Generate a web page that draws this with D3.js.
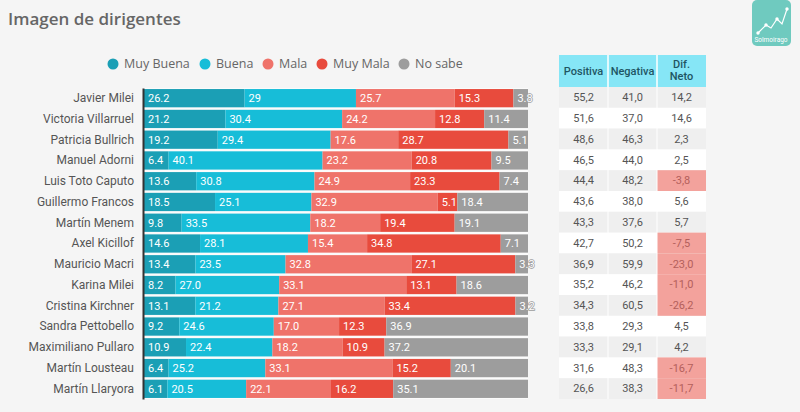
<!DOCTYPE html>
<html>
<head>
<meta charset="utf-8">
<script src="https://cdn.jsdelivr.net/npm/d3@7"></script>
<style>
  body { margin: 0; background: #f5f5f5; }
  svg { display: block; }
</style>
</head>
<body>
<div id="chart"></div>
<script>
//chart data
var names = ["Javier Milei", "Victoria Villarruel", "Patricia Bullrich", "Manuel Adorni", "Luis Toto Caputo",
  "Guillermo Francos", "Martín Menem", "Axel Kicillof", "Mauricio Macri", "Karina Milei",
  "Cristina Kirchner", "Sandra Pettobello", "Maximiliano Pullaro", "Martín Lousteau", "Martín Llaryora"];
var seriesNames = ["Muy Buena", "Buena", "Mala", "Muy Mala", "No sabe"];
var muyBuena = ["26.2","21.2","19.2","6.4","13.6","18.5","9.8","14.6","13.4","8.2","13.1","9.2","10.9","6.4","6.1"];
var buena    = ["29","30.4","29.4","40.1","30.8","25.1","33.5","28.1","23.5","27.0","21.2","24.6","22.4","25.2","20.5"];
var mala     = ["25.7","24.2","17.6","23.2","24.9","32.9","18.2","15.4","32.8","33.1","27.1","17.0","18.2","33.1","22.1"];
var muyMala  = ["15.3","12.8","28.7","20.8","23.3","5.1","19.4","34.8","27.1","13.1","33.4","12.3","10.9","15.2","16.2"];
var noSabe   = ["3.8","11.4","5.1","9.5","7.4","18.4","19.1","7.1","3.3","18.6","3.2","36.9","37.2","20.1","35.1"];
var positiva = [55.2, 51.6, 48.6, 46.5, 44.4, 43.6, 43.3, 42.7, 36.9, 35.2, 34.3, 33.8, 33.3, 31.6, 26.6];
var negativa = [41.0, 37.0, 46.3, 44.0, 48.2, 38.0, 37.6, 50.2, 59.9, 46.2, 60.5, 29.3, 29.1, 48.3, 38.3];
var difNeto  = [14.2, 14.6, 2.3, 2.5, -3.8, 5.6, 5.7, -7.5, -23.0, -11.0, -26.2, 4.5, 4.2, -16.7, -11.7];
var tableCols = ["Positiva", "Negativa", "Dif. Neto"];

var colors = ["#1b9fb5", "#17bdd8", "#ef736a", "#e84b3d", "#9d9d9d"];

const W = 800, H = 412;
var svg = d3.select("#chart").append("svg")
  .attr("width", W).attr("height", H)
  .style("font-family", "Roboto, sans-serif");

svg.append("rect").attr("width", W).attr("height", H).attr("fill", "#f5f5f5");

//title
svg.append("text")
  .attr("x", 8).attr("y", 25)
  .attr("fill", "#666")
  .style("font-family", "'Open Sans', sans-serif")
  .style("font-size", "17px").style("font-weight", "600")
  .text("Imagen de dirigentes");

//logo
var logo = svg.append("g");
logo.append("rect").attr("x", 752).attr("y", 0).attr("width", 39).attr("height", 46)
  .attr("rx", 5).attr("fill", "#6fcabf");
logo.append("polyline")
  .attr("points", "758,33 766,25 771,28 777,19 782,24 787,9")
  .attr("fill", "none").attr("stroke", "#fff").attr("stroke-width", 1.2);
logo.selectAll("circle").data([[758,33],[766,25],[777,19],[787,9]]).enter().append("circle")
  .attr("cx", d => d[0]).attr("cy", d => d[1]).attr("r", 1.7).attr("fill", "#fff");
logo.append("text").attr("x", 771).attr("y", 42).attr("text-anchor", "middle")
  .attr("fill", "#fff").style("font-size", "6.5px").text("Solmoirago");

//legend
var legendX = [113, 205, 268, 322, 404];
var legend = svg.selectAll(".legend").data(seriesNames).enter().append("g")
  .attr("class", "legend")
  .attr("transform", (d, i) => "translate(" + legendX[i] + ",64)");
legend.append("circle").attr("r", 5.5).attr("fill", (d, i) => colors[i]);
legend.append("text").attr("x", 11).attr("dy", "0.35em")
  .attr("fill", "#666")
  .style("font-family", "'Open Sans', sans-serif").style("font-size", "12.5px")
  .text(d => d);

//stacked data
var rows = names.map(function(n, i) {
  return {name: n, values: [muyBuena[i], buena[i], mala[i], muyMala[i], noSabe[i]]};
});
var stack = d3.stack()
  .keys(d3.range(5))
  .value((d, k) => +d.values[k])
  .offset(d3.stackOffsetExpand);
var stacked = stack(rows);

var x = d3.scaleLinear().domain([0, 1]).range([144, 528]);
var y = d3.scaleBand().domain(names).range([88, 399]).paddingInner(0.12).paddingOuter(0.05);

//white plot area behind the bars
svg.append("rect").attr("x", x(0)).attr("y", 88)
  .attr("width", x(1) - x(0)).attr("height", 311).attr("fill", "#fbfbfb");

var layers = svg.selectAll(".layer").data(stacked).enter().append("g")
  .attr("class", "layer")
  .attr("fill", (d, i) => colors[i]);

layers.selectAll("rect").data(d => d).enter().append("rect")
  .attr("x", d => x(d[0]))
  .attr("width", d => x(d[1]) - x(d[0]))
  .attr("y", d => y(d.data.name))
  .attr("height", y.bandwidth());

//value labels, outlined in the segment colour so overflow stays readable
svg.selectAll(".vlabels").data(stacked).enter().append("g")
  .selectAll("text").data((d, k) => d.map(p => ({p: p, k: k}))).enter().append("text")
  .attr("x", d => x(d.p[0]) + 4)
  .attr("y", d => y(d.p.data.name) + y.bandwidth() / 2)
  .attr("dy", "0.35em")
  .attr("fill", "#fff")
  .attr("stroke", d => colors[d.k])
  .attr("stroke-width", 1.5)
  .attr("paint-order", "stroke")
  .style("font-size", "11px")
  .text(d => d.p.data.values[d.k]);

//y axis
var yAxis = d3.axisLeft(y).tickSize(0).tickPadding(9);
var yg = svg.append("g").attr("transform", "translate(143,0)").call(yAxis);
yg.select(".domain").attr("stroke", "#333").attr("stroke-width", 2);
yg.selectAll("text").attr("fill", "#555")
  .style("font-family", "Roboto, sans-serif").style("font-size", "12px");

//table
var colX = d3.scaleBand().domain(tableCols).range([559, 706]);
var rowY = d3.scaleBand().domain(names).range([87, 399]);
var fmt = d3.formatLocale({decimal: ",", thousands: ".", grouping: [3], currency: ["", ""], minus: "-"}).format(".1f");

var head = svg.append("g");
head.append("rect").attr("x", 559).attr("y", 55).attr("width", 147).attr("height", 32).attr("fill", "#86e6f6");
head.selectAll("line").data(tableCols.slice(1)).enter().append("line")
  .attr("x1", d => colX(d)).attr("x2", d => colX(d))
  .attr("y1", 55).attr("y2", 87).attr("stroke", "#fff").attr("stroke-width", 1.5);
head.selectAll("text").data(tableCols).enter().append("text")
  .attr("x", d => colX(d) + colX.bandwidth() / 2)
  .attr("y", 71)
  .attr("text-anchor", "middle")
  .attr("fill", "#1f5563")
  .style("font-size", "11px").style("font-weight", "500")
  .each(function(d) {
    var t = d3.select(this);
    if (d == "Dif. Neto") {
      t.append("tspan").attr("x", colX(d) + colX.bandwidth() / 2).attr("dy", "-0.3em").text("Dif.");
      t.append("tspan").attr("x", colX(d) + colX.bandwidth() / 2).attr("dy", "1.15em").text("Neto");
    } else {
      t.attr("dy", "0.35em").text(d);
    }
  });

var tbl = svg.append("g");
tbl.selectAll(".rowbg").data(names).enter().append("rect")
  .attr("x", 559).attr("width", 147)
  .attr("y", d => rowY(d)).attr("height", rowY.bandwidth())
  .attr("fill", (d, i) => i % 2 == 0 ? "#efefef" : "#ffffff");

tbl.selectAll(".neg").data(names.filter((d, i) => difNeto[i] < 0)).enter().append("rect")
  .attr("x", colX("Dif. Neto")).attr("width", colX.bandwidth())
  .attr("y", d => rowY(d)).attr("height", rowY.bandwidth())
  .attr("fill", "#f3a29c");

tbl.selectAll(".sep").data(tableCols.slice(1)).enter().append("line")
  .attr("x1", d => colX(d)).attr("x2", d => colX(d))
  .attr("y1", 87).attr("y2", 399).attr("stroke", "#fff").attr("stroke-width", 1);

var cells = [];
names.forEach(function(n, i) {
  cells.push({row: n, col: "Positiva", v: positiva[i]});
  cells.push({row: n, col: "Negativa", v: negativa[i]});
  cells.push({row: n, col: "Dif. Neto", v: difNeto[i]});
});
tbl.selectAll(".cell").data(cells).enter().append("text")
  .attr("x", d => colX(d.col) + colX.bandwidth() / 2)
  .attr("y", d => rowY(d.row) + rowY.bandwidth() / 2)
  .attr("dy", "0.35em")
  .attr("text-anchor", "middle")
  .attr("fill", d => d.col == "Dif. Neto" && d.v < 0 ? "#b4605b" : "#555")
  .style("font-size", "11px")
  .text(d => fmt(d.v));
</script>
</body>
</html>
